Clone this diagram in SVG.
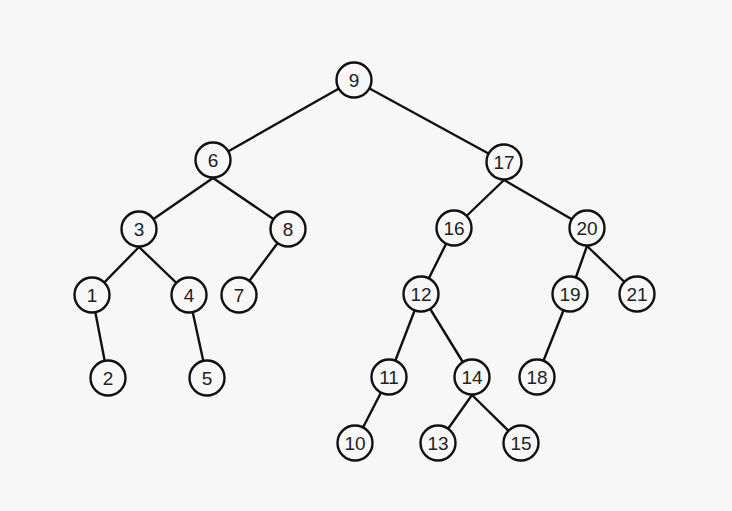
<svg xmlns="http://www.w3.org/2000/svg" width="732" height="511" viewBox="0 0 732 511">
<style>
.bg{fill:#f7f7f7}
.e line{stroke:#111;stroke-width:2.4;stroke-linecap:round}
.n circle{fill:#f7f7f7;stroke:#111;stroke-width:2.4}
.n text{font-family:"Liberation Sans",Arial,sans-serif;font-size:19px;fill:#222;text-anchor:middle;dominant-baseline:central}
</style>
<rect class="bg" x="0" y="0" width="732" height="511"/>
<g id="connectors" class="e">
<line x1="354" y1="80" x2="213" y2="160"/>
<line x1="354" y1="80" x2="504" y2="162"/>
<line x1="213" y1="178" x2="139" y2="229"/>
<line x1="213" y1="178" x2="288" y2="229"/>
<line x1="504" y1="180" x2="454" y2="228"/>
<line x1="504" y1="180" x2="587" y2="228"/>
<line x1="139" y1="247" x2="92" y2="295"/>
<line x1="139" y1="247" x2="189" y2="295"/>
<line x1="288" y1="229" x2="239" y2="295"/>
<line x1="454" y1="228" x2="421" y2="294"/>
<line x1="587" y1="246" x2="570" y2="294"/>
<line x1="587" y1="246" x2="637" y2="294"/>
<line x1="92" y1="295" x2="108" y2="378"/>
<line x1="189" y1="295" x2="207" y2="378"/>
<line x1="421" y1="294" x2="389" y2="377"/>
<line x1="421" y1="294" x2="472" y2="377"/>
<line x1="570" y1="294" x2="537" y2="377"/>
<line x1="389" y1="377" x2="355" y2="443"/>
<line x1="472" y1="395" x2="438" y2="443"/>
<line x1="472" y1="395" x2="521" y2="443"/>
</g>
<g id="n9" class="n"><circle cx="354" cy="80" r="17.5"/><text x="354" y="80">9</text></g>
<g id="n6" class="n"><circle cx="213" cy="160" r="17.5"/><text x="213" y="160">6</text></g>
<g id="n17" class="n"><circle cx="504" cy="162" r="17.5"/><text x="504" y="162">17</text></g>
<g id="n3" class="n"><circle cx="139" cy="229" r="17.5"/><text x="139" y="229">3</text></g>
<g id="n8" class="n"><circle cx="288" cy="229" r="17.5"/><text x="288" y="229">8</text></g>
<g id="n16" class="n"><circle cx="454" cy="228" r="17.5"/><text x="454" y="228">16</text></g>
<g id="n20" class="n"><circle cx="587" cy="228" r="17.5"/><text x="587" y="228">20</text></g>
<g id="n1" class="n"><circle cx="92" cy="295" r="17.5"/><text x="92" y="295">1</text></g>
<g id="n4" class="n"><circle cx="189" cy="295" r="17.5"/><text x="189" y="295">4</text></g>
<g id="n7" class="n"><circle cx="239" cy="295" r="17.5"/><text x="239" y="295">7</text></g>
<g id="n12" class="n"><circle cx="421" cy="294" r="17.5"/><text x="421" y="294">12</text></g>
<g id="n19" class="n"><circle cx="570" cy="294" r="17.5"/><text x="570" y="294">19</text></g>
<g id="n21" class="n"><circle cx="637" cy="294" r="17.5"/><text x="637" y="294">21</text></g>
<g id="n2" class="n"><circle cx="108" cy="378" r="17.5"/><text x="108" y="378">2</text></g>
<g id="n5" class="n"><circle cx="207" cy="378" r="17.5"/><text x="207" y="378">5</text></g>
<g id="n11" class="n"><circle cx="389" cy="377" r="17.5"/><text x="389" y="377">11</text></g>
<g id="n14" class="n"><circle cx="472" cy="377" r="17.5"/><text x="472" y="377">14</text></g>
<g id="n18" class="n"><circle cx="537" cy="377" r="17.5"/><text x="537" y="377">18</text></g>
<g id="n10" class="n"><circle cx="355" cy="443" r="17.5"/><text x="355" y="443">10</text></g>
<g id="n13" class="n"><circle cx="438" cy="443" r="17.5"/><text x="438" y="443">13</text></g>
<g id="n15" class="n"><circle cx="521" cy="443" r="17.5"/><text x="521" y="443">15</text></g>
</svg>
